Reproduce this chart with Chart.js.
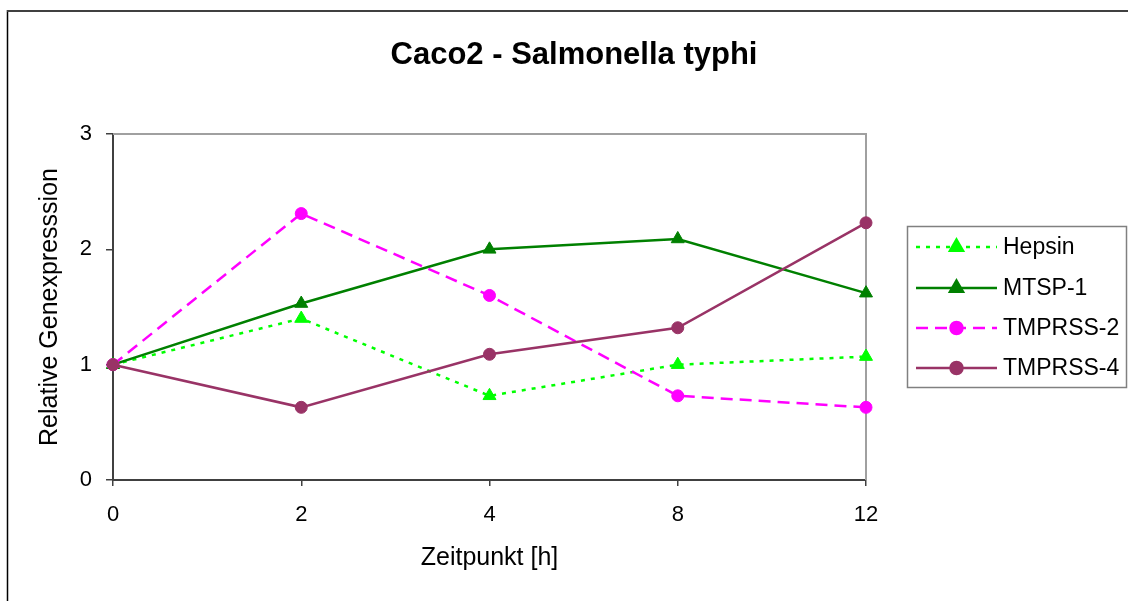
<!DOCTYPE html>
<html>
<head>
<meta charset="utf-8">
<title>Caco2 - Salmonella typhi</title>
<script src="https://cdn.jsdelivr.net/npm/chart.js@4.4.0/dist/chart.umd.min.js"></script>
<style>
  html, body { margin: 0; padding: 0; background: #fff; }
  #wrap { width: 1128px; height: 601px; }
</style>
</head>
<body>
<div id="wrap"><canvas id="chart" width="1128" height="601"></canvas></div>
<script>
// Daten
const TITLE = 'Caco2 - Salmonella typhi';
const X_TITLE = 'Zeitpunkt [h]';
const Y_TITLE = 'Relative Genexpresssion';
const timepoints = ['0', '2', '4', '8', '12'];
const hepsin   = [1.00, 1.40, 0.73, 1.00, 1.07];
const mtsp1    = [1.00, 1.53, 2.00, 2.09, 1.62];
const tmprss2  = [1.00, 2.31, 1.60, 0.73, 0.63];
const tmprss4  = [1.00, 0.63, 1.09, 1.32, 2.23];
const Y_MIN = 0, Y_MAX = 3, Y_STEP = 1;

const FONT = '"Liberation Sans", Arial, Helvetica, sans-serif';
const AXIS_COLOR = '#404040';

// Rahmen, Titel und Plotrand (oben/rechts grau wie in Excel)
const framePlugin = {
    id: 'frame',
    beforeDatasetsDraw(chart) {
        const { ctx, chartArea: a } = chart;
        ctx.save();
        ctx.strokeStyle = '#a0a0a0';
        ctx.lineWidth = 2;
        ctx.beginPath();
        ctx.moveTo(a.left, a.top);
        ctx.lineTo(a.right, a.top);
        ctx.lineTo(a.right, a.bottom);
        ctx.stroke();
        ctx.restore();
    },
    afterDraw(chart) {
        const { ctx } = chart;
        ctx.save();
        // äußerer Rahmen
        ctx.strokeStyle = '#000';
        ctx.lineWidth = 1.5;
        ctx.beginPath();
        ctx.moveTo(7.5, 601);
        ctx.lineTo(7.5, 10);
        ctx.stroke();
        ctx.strokeStyle = AXIS_COLOR;
        ctx.lineWidth = 2;
        ctx.beginPath();
        ctx.moveTo(7, 11);
        ctx.lineTo(1128, 11);
        ctx.stroke();

        // Titel
        ctx.fillStyle = '#000';
        ctx.font = 'bold 31px ' + FONT;
        ctx.textAlign = 'center';
        ctx.textBaseline = 'alphabetic';
        ctx.fillText(TITLE, 574, 64);
        ctx.restore();
    }
};

// Legende im Excel-Stil: Linie + Marker
const legendPlugin = {
    id: 'xlLegend',
    afterDraw(chart) {
        const { ctx } = chart;
        const box = { x: 907.5, y: 226.5, w: 219, h: 161 };
        ctx.save();
        ctx.strokeStyle = '#808080';
        ctx.lineWidth = 1.5;
        ctx.strokeRect(box.x, box.y, box.w, box.h);

        const rowY = [247, 288, 328, 368];
        chart.data.datasets.forEach((ds, i) => {
            const y = rowY[i];
            ctx.strokeStyle = ds.borderColor;
            ctx.lineWidth = ds.borderWidth;
            ctx.setLineDash(ds.borderDash || []);
            ctx.beginPath();
            ctx.moveTo(916, y);
            ctx.lineTo(997, y);
            ctx.stroke();
            ctx.setLineDash([]);

            ctx.fillStyle = ds.pointBackgroundColor;
            ctx.strokeStyle = ds.pointBorderColor;
            Chart.helpers.drawPoint(ctx, {
                pointStyle: ds.pointStyle,
                radius: ds.pointRadius,
                borderWidth: ds.pointBorderWidth,
                rotation: 0
            }, 956.5, y);

            ctx.fillStyle = '#000';
            ctx.font = '23px ' + FONT;
            ctx.textAlign = 'left';
            ctx.textBaseline = 'middle';
            ctx.fillText(ds.label, 1003, y + 1);
        });
        ctx.restore();
    }
};

function lineSeries(label, data, color, dash, style, radius, order) {
    return {
        label: label,
        data: data,
        borderColor: color,
        backgroundColor: color,
        borderWidth: 2.5,
        borderDash: dash,
        pointStyle: style,
        pointRadius: radius,
        pointHoverRadius: radius,
        pointBackgroundColor: color,
        pointBorderColor: color,
        pointBorderWidth: 1,
        tension: 0,
        fill: false,
        order: order
    };
}

const ctx = document.getElementById('chart').getContext('2d');
const chart = new Chart(ctx, {
    type: 'line',
    data: {
        labels: timepoints,
        datasets: [
            lineSeries('Hepsin', hepsin, '#00ff00', [4, 6], 'triangle', 7.5, 3),
            lineSeries('MTSP-1', mtsp1, '#008000', [], 'triangle', 7.5, 2),
            lineSeries('TMPRSS-2', tmprss2, '#ff00ff', [12, 7], 'circle', 6, 1),
            lineSeries('TMPRSS-4', tmprss4, '#993366', [], 'circle', 6, 0)
        ]
    },
    options: {
        responsive: false,
        animation: false,
        devicePixelRatio: 1,
        layout: { padding: { left: 0, right: 262, top: 134, bottom: 0 } },
        plugins: {
            legend: { display: false },
            title: { display: false },
            tooltip: { enabled: false }
        },
        scales: {
            x: {
                type: 'category',
                offset: false,
                grid: {
                    display: true,
                    drawOnChartArea: false,
                    drawTicks: true,
                    tickLength: 6,
                    color: AXIS_COLOR,
                    lineWidth: 1.5
                },
                border: { display: true, color: AXIS_COLOR, width: 2 },
                ticks: {
                    color: '#000',
                    padding: 16,
                    maxRotation: 0,
                    font: { family: FONT, size: 22 }
                },
                title: {
                    display: true,
                    text: X_TITLE,
                    color: '#000',
                    padding: { top: 0, bottom: 28 },
                    font: { family: FONT, size: 25 }
                },
                afterFit(scale) { scale.height = 121; }
            },
            y: {
                min: Y_MIN,
                max: Y_MAX,
                grid: {
                    display: true,
                    drawOnChartArea: false,
                    drawTicks: true,
                    tickLength: 7,
                    color: AXIS_COLOR,
                    lineWidth: 1.5
                },
                border: { display: true, color: AXIS_COLOR, width: 2 },
                ticks: {
                    stepSize: Y_STEP,
                    color: '#000',
                    padding: 14,
                    font: { family: FONT, size: 22 }
                },
                title: {
                    display: true,
                    text: Y_TITLE,
                    color: '#000',
                    padding: { top: 35, bottom: 0 },
                    font: { family: FONT, size: 25 }
                },
                afterFit(scale) { scale.width = 113; }
            }
        }
    },
    plugins: [framePlugin, legendPlugin]
});
</script>
</body>
</html>
